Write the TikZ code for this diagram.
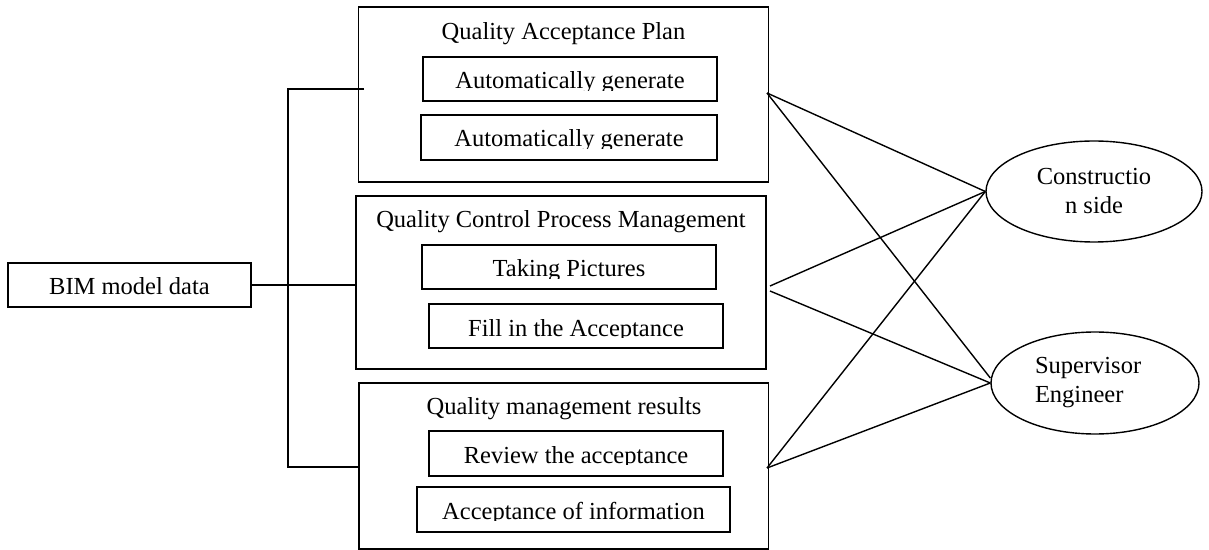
\documentclass[tikz,border=0pt]{standalone}
\usepackage{fontspec}
\setmainfont{Liberation Serif}
\usetikzlibrary{fit,shapes.geometric}
\begin{document}
\begin{tikzpicture}[x=0.5pt,y=-0.5pt,
  every node/.style={font=\fontsize{12.25}{14.5}\selectfont},
  frame/.style={draw, line width=0.7pt, inner sep=0pt},
  lbl/.style={anchor=base, inner sep=0pt},
  link/.style={line width=0.7pt},
  party/.style={draw, ellipse, line width=0.7pt, inner sep=0pt}]
\useasboundingbox (0,0) rectangle (1209,550);

% BIM source
\node[frame, fit={(8,263) (251,307)}] (bim) {};
\node[lbl] (bimt) at (129.5,295) {BIM model data};

% group boxes
\node[frame, fit={(358.5,7) (768.5,182)}] (b1) {};
\node[lbl] (b1t) at (563.5,40) {Quality Acceptance Plan};
\node[frame, fit={(356,196) (766,369)}] (b2) {};
\node[lbl] (b2t) at (561,228) {Quality Control Process Management};
\node[frame, fit={(359,383) (768.5,549)}] (b3) {};
\node[lbl] (b3t) at (564,415) {Quality management results};

% inner boxes
\node[frame, fit={(423,57) (717,101)}] (i1a) {};
\node[frame, fit={(421,115) (717,160)}] (i1b) {};
\node[frame, fit={(422,245) (716,289)}] (i2a) {};
\node[frame, fit={(429,304) (723,348)}] (i2b) {};
\node[frame, fit={(429,431) (723,476)}] (i3a) {};
\node[frame, fit={(417,487) (730,532)}] (i3b) {};

\begin{scope}
\clip (423,57) rectangle (717,90.5);
\node[lbl] (i1at) at (570,89) {Automatically generate};
\end{scope}
\begin{scope}
\clip (421,115) rectangle (717,148.5);
\node[lbl] (i1bt) at (569,147) {Automatically generate};
\end{scope}
\begin{scope}
\clip (422,245) rectangle (716,278.5);
\node[lbl] (i2at) at (569,277) {Taking Pictures};
\end{scope}
\begin{scope}
\clip (429,304) rectangle (723,337.5);
\node[lbl] (i2bt) at (576,336) {Fill in the Acceptance};
\end{scope}
\begin{scope}
\clip (429,431) rectangle (723,464.5);
\node[lbl] (i3at) at (576,463) {Review the acceptance};
\end{scope}
\begin{scope}
\clip (417,487) rectangle (730,520.5);
\node[lbl] (i3bt) at (573.5,519) {Acceptance of information};
\end{scope}

% parties
\node[party, minimum width=108pt, minimum height=50.5pt, align=center] (cs) at (1094,191.5) {Constructio\\n side};
\node[party, minimum width=104pt, minimum height=51pt, text width=60pt, align=left] (sv) at (1095,383) {Supervisor\\Engineer};

% bracket
\coordinate (k1) at (364,89);
\coordinate (j1) at (288,89);
\coordinate (j3) at (288,467);
\draw[link] (k1) -- (j1) -- (j3) -- (b3.west |- j3);
\draw[link] (bim.east) -- (b2.west |- bim.east);

% connectors to parties
\coordinate (r1) at (767,93);
\coordinate (r2a) at (770,286);
\coordinate (r2b) at (770,291);
\coordinate (r3) at (767,468);
\draw[link] (r1) -- (cs.west);
\draw[link] (r1) -- ([yshift=2.5pt]sv.west);
\draw[link] (r2a) -- (cs.west);
\draw[link] (r2b) -- (sv.west);
\draw[link] (r3) -- (cs.west);
\draw[link] (r3) -- (sv.west);
\end{tikzpicture}
\end{document}
